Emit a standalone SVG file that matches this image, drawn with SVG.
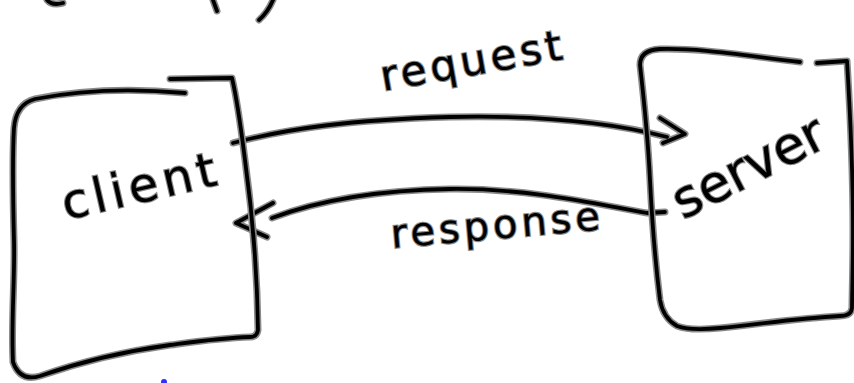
<svg xmlns="http://www.w3.org/2000/svg" width="854" height="383" viewBox="0 0 854 383">
<defs>
<style>
.ink{fill:none;stroke-linecap:round;stroke-linejoin:round}
.halo{stroke:#8a8a8a;stroke-width:7}
.core{stroke:#000;stroke-width:3.8}
.lbl{font-family:"DejaVu Sans","Liberation Sans",sans-serif;fill:#000;stroke:#8a8a8a;stroke-width:2.2;paint-order:stroke;font-weight:normal}
</style>
<path id="clientBox" d="M170,79 L232,78 C236,95 240,120 245,160 C252,210 257,260 258,330 Q257,337 250,337 C220,338 200,341 170,345 C120,352 80,362 40,376 Q20,382 13,362 C11,320 15,280 14,240 C13,200 12,160 14,128 Q16,104 35,99 C80,90 130,88 185,93"/>
<path id="serverBox" d="M817,63 L847,61 C850,110 853,160 853,230 C853,270 852,295 852,308 Q851,316 840,316 C800,318 760,324 720,328 Q690,331 677,326 Q663,318 660,300 C655,260 652,220 650,180 C648,140 644,100 640,65 Q640,50 660,49 C700,48 740,55 800,62"/>
<path id="reqLine" d="M233,143 C290,128 350,120 450,117 C540,115 610,122 667,137"/>
<path id="reqHead" d="M660,118 L685,134 L663,143"/>
<path id="resLine" d="M665,212 L647,213 C600,205 530,188 450,189 C380,190 320,200 272,218"/>
<path id="resHead" d="M273,203 L236,223 L267,237"/>
<path id="frag" d="M47,0 Q52,6 63,3 M213,0 L217,11 M273,0 Q268,12 259,20"/>
</defs>
<rect width="854" height="383" fill="#fff"/>
<g id="connectors">
<g class="ink halo"><use href="#reqLine"/><use href="#reqHead"/><use href="#resLine"/><use href="#resHead"/></g>
<g class="ink core"><use href="#reqLine"/><use href="#reqHead"/><use href="#resLine"/><use href="#resHead"/></g>
<text class="lbl" font-size="42" letter-spacing="4" transform="translate(383,91) rotate(-10)">request</text>
<text class="lbl" font-size="40" letter-spacing="4" transform="translate(392,248) rotate(-5)">response</text>
</g>
<g id="client">
<use href="#clientBox" class="ink halo"/>
<use href="#clientBox" class="ink core"/>
<text class="lbl" font-size="48" letter-spacing="5" transform="translate(66,220) rotate(-13)">client</text>
</g>
<g id="server">
<use href="#serverBox" class="ink halo"/>
<use href="#serverBox" class="ink core"/>
<text class="lbl" font-size="52" transform="translate(683,220) rotate(-27)">server</text>
</g>
<g id="fragments">
<use href="#frag" class="ink halo"/>
<use href="#frag" class="ink core"/>
<circle cx="164" cy="382" r="3" fill="#3030ff"/>
</g>
</svg>
